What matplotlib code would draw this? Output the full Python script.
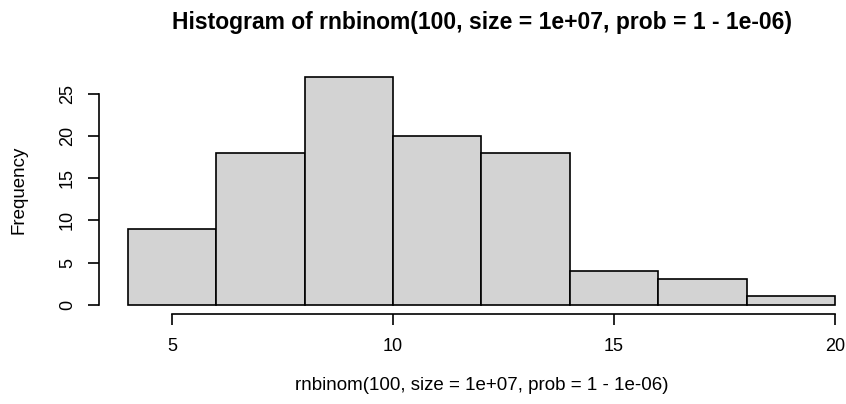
import numpy as np
import matplotlib
matplotlib.use("Agg")
import matplotlib.pyplot as plt

plt.rcParams['font.family'] = ['Liberation Sans', 'DejaVu Sans']

# bin edges and counts of the histogram
bin_edges = [4, 6, 8, 10, 12, 14, 16, 18, 20]
counts = [9, 18, 27, 20, 18, 4, 3, 1]
x_ticks = [5, 10, 15, 20]
y_ticks = [0, 5, 10, 15, 20, 25]

title = "Histogram of rnbinom(100, size = 1e+07, prob = 1 - 1e-06)"
xlabel = "rnbinom(100, size = 1e+07, prob = 1 - 1e-06)"
ylabel = "Frequency"

fig = plt.figure(figsize=(8.46, 4.04), dpi=100)
ax = fig.add_axes([99 / 846, 90 / 404, 747 / 846, 254 / 404])

edges = np.array(bin_edges)
ax.bar(edges[:-1], counts, width=np.diff(edges), align='edge',
       color='#d3d3d3', edgecolor='black', linewidth=1.2)

ax.set_xlim(3.344, 20.249)
ax.set_ylim(-1.1, 29.0)

# R style axes: detached lines that only span the tick range
for side in ['top', 'right']:
    ax.spines[side].set_visible(False)
ax.spines['left'].set_bounds(y_ticks[0], y_ticks[-1])
ax.spines['bottom'].set_bounds(x_ticks[0], x_ticks[-1])
ax.spines['left'].set_linewidth(1.2)
ax.spines['bottom'].set_linewidth(1.2)

ax.set_xticks(x_ticks)
ax.set_yticks(y_ticks)
ax.tick_params(axis='both', length=8, width=1.2, labelsize=13)
ax.tick_params(axis='x', pad=9.5)
ax.tick_params(axis='y', labelrotation=90, pad=8.5)
for lbl in ax.get_yticklabels():
    lbl.set_va('center')

fig.text(482 / 846, 1 - 22 / 404, title, ha='center', va='center',
         fontsize=16.5, fontweight='bold')
fig.text(482 / 846, 1 - 385 / 404, xlabel, ha='center', va='center',
         fontsize=13.5)
fig.text(19 / 846, 1 - 190 / 404, ylabel, ha='center', va='center',
         rotation=90, fontsize=13.5)

fig.savefig("out.png", dpi=100)
